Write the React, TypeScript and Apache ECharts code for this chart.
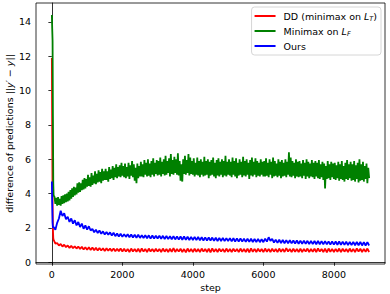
import React, { useEffect, useRef } from "react";
import * as echarts from "echarts";

// sampling grids (step axis)
const ddOursEarlySteps = [0, 10, 20, 30, 40];
const minimaxEarlySteps = [0, 10, 20, 30, 40];
const ddOursStep = 50;
const minimaxStep = 25;
const ddOursSteps: number[] = [...ddOursEarlySteps, ...Array.from({ length: 180 }, (_, i) => (i + 1) * ddOursStep)];
const minimaxSteps: number[] = [...minimaxEarlySteps, ...Array.from({ length: 359 }, (_, i) => (i + 2) * minimaxStep)];

const seriesNames = ["DD (minimax on L_T)", "Minimax on L_F", "Ours"];

const ddValues = [
  11.9, 7.5, 3.6, 1.9, 1.4,
  1.3, 1.08, 1.12, 0.98, 1.06, 0.92, 1.02, 0.88, 0.98, 0.84, 0.96, 0.82, 0.93, 0.8, 0.92, 0.77, 0.9, 0.74, 0.88, 0.73,
  0.87, 0.72, 0.86, 0.7, 0.84, 0.68, 0.83, 0.69, 0.82, 0.66, 0.81, 0.67, 0.8, 0.65, 0.81, 0.64, 0.79, 0.65, 0.8, 0.63,
  0.79, 0.62, 0.78, 0.6, 0.8, 0.63, 0.77, 0.61, 0.79, 0.6, 0.81, 0.62, 0.78, 0.59, 0.8, 0.63, 0.77, 0.61, 0.79, 0.62,
  0.78, 0.6, 0.8, 0.62, 0.77, 0.59, 0.79, 0.61, 0.82, 0.6, 0.78, 0.62, 0.79, 0.6, 0.77, 0.58, 0.8, 0.61, 0.78, 0.6,
  0.79, 0.61, 0.77, 0.59, 0.8, 0.62, 0.78, 0.6, 0.79, 0.58, 0.81, 0.61, 0.77, 0.6, 0.79, 0.62, 0.78, 0.59, 0.8, 0.61,
  0.77, 0.6, 0.79, 0.62, 0.78, 0.59, 0.8, 0.61, 0.77, 0.6, 0.79, 0.58, 0.81, 0.61, 0.78, 0.6, 0.79, 0.62, 0.77, 0.59,
  0.8, 0.61, 0.78, 0.6, 0.79, 0.62, 0.77, 0.59, 0.8, 0.61, 0.78, 0.6, 0.82, 0.62, 0.78, 0.59, 0.79, 0.61, 0.77, 0.6,
  0.79, 0.6, 0.78, 0.62, 0.8, 0.59, 0.77, 0.61, 0.79, 0.6, 0.81, 0.62, 0.78, 0.6, 0.79, 0.58, 0.8, 0.61, 0.78, 0.6,
  0.78, 0.61, 0.8, 0.59, 0.79, 0.62, 0.77, 0.6, 0.8, 0.61, 0.78, 0.59, 0.81, 0.62, 0.79, 0.6, 0.78, 0.61, 0.8, 0.6,
];

const minimaxValues = [
  14.4, 13.6, 12.9, 8.5, 4.6,
  3.9, 3.8, 3.4, 3.75, 3.3, 3.8, 3.35, 3.7, 3.3, 3.85, 3.4, 3.9, 3.45, 3.95, 3.5, 4.0, 3.55, 4.1, 3.6,
  4.2, 3.7, 4.3, 3.8, 4.4, 3.9, 4.35, 3.95, 4.6, 4.05, 4.65, 4.1, 4.6, 4.2, 4.8, 4.25, 4.9, 4.3, 4.85, 4.4,
  5.1, 4.45, 4.95, 4.4, 5.2, 4.5, 5.05, 4.6, 5.3, 4.55, 5.15, 4.65, 5.35, 4.7, 5.25, 4.6, 5.45, 4.75, 5.3, 4.8,
  5.45, 4.8, 5.3, 4.7, 5.55, 4.85, 5.4, 4.9, 5.6, 4.8, 5.5, 4.95, 5.7, 4.9, 5.55, 5.0, 5.65, 4.95, 5.8, 5.05,
  5.6, 4.95, 5.75, 4.9, 5.55, 5.0, 5.8, 4.85, 5.65, 5.05, 5.9, 4.95, 5.7, 4.75, 5.5, 4.6, 5.75, 4.9, 5.6, 5.0,
  5.85, 5.0, 5.7, 4.95, 5.95, 5.1, 5.8, 5.0, 6.0, 5.05, 5.75, 4.95, 5.9, 5.1, 6.05, 5.0, 5.8, 5.15, 5.95, 5.05,
  5.9, 5.1, 6.1, 5.0, 5.85, 5.15, 6.0, 5.05, 6.2, 5.1, 5.9, 5.2, 6.05, 5.0, 6.3, 5.15, 5.95, 5.1, 6.15, 5.2,
  6.0, 5.1, 6.35, 5.05, 5.9, 4.75, 5.7, 4.7, 6.0, 5.15, 6.2, 5.1, 5.95, 5.2, 6.3, 5.05, 6.1, 5.15, 5.9, 5.1,
  6.05, 5.0, 5.8, 5.1, 6.1, 5.05, 5.9, 4.95, 6.0, 5.1, 5.85, 5.0, 6.15, 5.05, 5.9, 5.1, 6.0, 4.9, 5.85, 5.05,
  5.95, 5.1, 6.1, 5.0, 5.8, 4.9, 5.95, 5.05, 6.05, 5.0, 5.85, 5.1, 6.0, 4.95, 5.9, 5.05, 6.2, 5.0, 5.85, 5.1,
  6.0, 5.05, 5.85, 4.95, 6.1, 5.1, 5.9, 5.0, 6.05, 4.9, 5.8, 5.05, 6.0, 5.1, 5.85, 4.95, 6.15, 5.05, 5.9, 5.0,
  6.0, 5.1, 5.8, 4.85, 5.95, 5.05, 6.1, 5.0, 5.85, 5.1, 6.05, 4.95, 5.9, 5.05, 5.8, 5.0, 6.0, 5.1, 5.85, 5.0,
  5.9, 5.0, 6.05, 5.05, 5.8, 4.95, 6.0, 5.1, 5.85, 4.9, 6.1, 5.0, 5.9, 5.05, 5.75, 4.95, 6.0, 5.05, 5.85, 4.9,
  5.95, 5.0, 5.8, 5.05, 6.0, 4.95, 5.85, 5.1, 6.4, 5.0, 6.1, 4.95, 5.9, 5.05, 5.8, 4.9, 6.0, 5.0, 5.85, 4.95,
  5.9, 5.0, 5.75, 4.9, 5.95, 5.05, 5.8, 4.85, 6.0, 5.0, 5.85, 4.9, 5.75, 5.0, 5.95, 4.95, 5.8, 4.85, 5.9, 5.0,
  5.8, 4.9, 5.95, 4.85, 5.7, 4.95, 5.85, 4.8, 5.75, 4.3, 5.6, 4.85, 5.9, 4.9, 5.7, 4.8, 5.85, 4.95, 5.75, 4.85,
  5.8, 4.8, 5.65, 4.9, 5.85, 4.75, 5.7, 4.85, 5.9, 4.8, 5.6, 4.7, 5.8, 4.85, 5.95, 4.8, 5.7, 4.9, 5.85, 4.75,
  5.7, 4.8, 5.9, 4.7, 5.65, 4.85, 5.8, 4.65, 6.0, 4.75, 5.7, 4.8, 5.85, 4.7, 5.6, 4.85, 5.75, 4.6, 5.5, 4.9,
];

const oursValues = [
  4.7, 3.4, 2.3, 2.05, 2.0,
  2.05, 1.9, 2.3, 2.55, 3.0, 2.7, 2.85, 2.5, 2.65, 2.35, 2.55, 2.25, 2.45, 2.15, 2.35, 2.05, 2.25, 1.95, 2.15, 1.9,
  2.1, 1.85, 1.95, 1.75, 1.9, 1.7, 1.85, 1.66, 1.8, 1.62, 1.76, 1.6, 1.74, 1.56, 1.72, 1.52, 1.68, 1.5, 1.66, 1.48,
  1.64, 1.48, 1.63, 1.46, 1.62, 1.44, 1.6, 1.43, 1.6, 1.42, 1.58, 1.41, 1.57, 1.4, 1.57, 1.38, 1.56, 1.39, 1.55, 1.38,
  1.55, 1.37, 1.54, 1.36, 1.53, 1.35, 1.52, 1.34, 1.52, 1.33, 1.51, 1.32, 1.5, 1.31, 1.5, 1.31, 1.49, 1.3, 1.48, 1.3,
  1.48, 1.29, 1.47, 1.28, 1.46, 1.27, 1.45, 1.27, 1.44, 1.26, 1.44, 1.25, 1.43, 1.24, 1.42, 1.24, 1.42, 1.23, 1.41, 1.23,
  1.41, 1.22, 1.4, 1.21, 1.39, 1.2, 1.39, 1.2, 1.38, 1.19, 1.37, 1.19, 1.37, 1.18, 1.36, 1.17, 1.36, 1.17, 1.35, 1.17,
  1.38, 1.2, 1.46, 1.25, 1.36, 1.15, 1.32, 1.13, 1.31, 1.12, 1.3, 1.11, 1.29, 1.1, 1.28, 1.1, 1.27, 1.09, 1.27, 1.08,
  1.26, 1.08, 1.26, 1.07, 1.25, 1.06, 1.25, 1.06, 1.24, 1.05, 1.24, 1.05, 1.23, 1.04, 1.23, 1.04, 1.22, 1.03, 1.22, 1.03,
  1.21, 1.02, 1.21, 1.02, 1.2, 1.01, 1.2, 1.0, 1.19, 1.0, 1.19, 0.99, 1.18, 0.99, 1.18, 0.98, 1.17, 0.98, 1.17, 0.98,
];

const xTicks = [0, 2000, 4000, 6000, 8000];
const yTicks = [0, 2, 4, 6, 8, 10, 12, 14];

const FONT = "DejaVu Sans";

export default function App() {
  const ref = useRef<HTMLDivElement>(null);
  useEffect(() => {
    if (!ref.current) return;
    const chart = echarts.init(ref.current, null, { renderer: "svg" });
    const pairs = (stepsArr: number[], vals: number[]) =>
      stepsArr.slice(0, vals.length).map((s, i) => [s, vals[i]]);
    const legendRich: Record<string, string> = {
      [seriesNames[0]]: "{n|DD (minimax on }{i|L}{s|T}{n|)}",
      [seriesNames[1]]: "{n|Minimax on }{i|L}{s|F}",
      [seriesNames[2]]: "{n|Ours}",
    };
    const colors = ["#ff0000", "#008000", "#0000ff"];
    const data = [
      pairs(ddOursSteps, ddValues),
      pairs(minimaxSteps, minimaxValues),
      pairs(ddOursSteps, oursValues),
    ];
    chart.setOption({
      animation: false,
      grid: {
        left: 36,
        right: 5,
        top: 3,
        bottom: 30,
        show: true,
        borderColor: "#000",
        borderWidth: 0.8,
        backgroundColor: "transparent",
        outerBoundsMode: "none",
      },
      legend: {
        orient: "vertical",
        right: 9,
        top: 7,
        data: seriesNames,
        icon: "rect",
        itemWidth: 21,
        itemHeight: 2,
        itemGap: 3,
        padding: [3, 4, 3, 3],
        backgroundColor: "rgba(255,255,255,0.8)",
        borderColor: "#cccccc",
        borderWidth: 0.8,
        borderRadius: 3,
        formatter: (name: string) => legendRich[name] || name,
        textStyle: {
          fontFamily: FONT,
          fontSize: 9.5,
          color: "#000",
          lineHeight: 12,
          padding: [0, 0, 0, 3],
          rich: {
            n: { fontFamily: FONT, fontSize: 9.5, color: "#000", lineHeight: 12 },
            i: { fontFamily: FONT, fontSize: 9.5, fontStyle: "italic", color: "#000", lineHeight: 12 },
            s: { fontFamily: FONT, fontSize: 6.5, fontStyle: "italic", color: "#000", lineHeight: 12, padding: [5, 0, 0, 0] },
          },
        },
      },
      xAxis: {
        type: "value",
        min: -450,
        max: 9450,
        name: "step",
        nameLocation: "middle",
        nameGap: 18,
        nameMoveOverlap: false,
        nameTextStyle: { fontFamily: FONT, fontSize: 9.5, color: "#000" },
        axisLine: { show: true, lineStyle: { color: "#000", width: 0.8 } },
        axisTick: { show: true, length: 3.5, lineStyle: { color: "#000", width: 0.8 }, customValues: xTicks },
        axisLabel: {
          fontFamily: FONT,
          fontSize: 9.5,
          color: "#000",
          margin: 5,
          customValues: xTicks,
          formatter: (v: number) => String(v),
        },
        splitLine: { show: false },
      },
      yAxis: {
        type: "value",
        min: -0.1,
        max: 15.1,
        name: "{n|difference of predictions ||}{i|y}{n|′ − }{i|y}{n|||}",
        nameLocation: "middle",
        nameRotate: 90,
        nameGap: 22,
        nameMoveOverlap: false,
        nameTextStyle: {
          fontFamily: FONT,
          fontSize: 9.5,
          color: "#000",
          rich: {
            n: { fontFamily: FONT, fontSize: 9.5, color: "#000" },
            i: { fontFamily: FONT, fontSize: 9.5, fontStyle: "italic", color: "#000" },
          },
        },
        axisLine: { show: true, lineStyle: { color: "#000", width: 0.8 } },
        axisTick: { show: true, length: 3.5, lineStyle: { color: "#000", width: 0.8 }, customValues: yTicks },
        axisLabel: {
          fontFamily: FONT,
          fontSize: 9.5,
          color: "#000",
          margin: 5,
          customValues: yTicks,
          formatter: (v: number) => String(v),
        },
        splitLine: { show: false },
      },
      series: seriesNames.map((name, k) => ({
        name,
        type: "line",
        data: data[k],
        showSymbol: false,
        symbol: "none",
        color: colors[k],
        lineStyle: { color: colors[k], width: 1.8 },
        z: 2 + k,
      })),
    });
    return () => chart.dispose();
  }, []);
  return <div ref={ref} style={{ width: 390, height: 294, position: "absolute", left: 0, top: 0 }} />;
}
